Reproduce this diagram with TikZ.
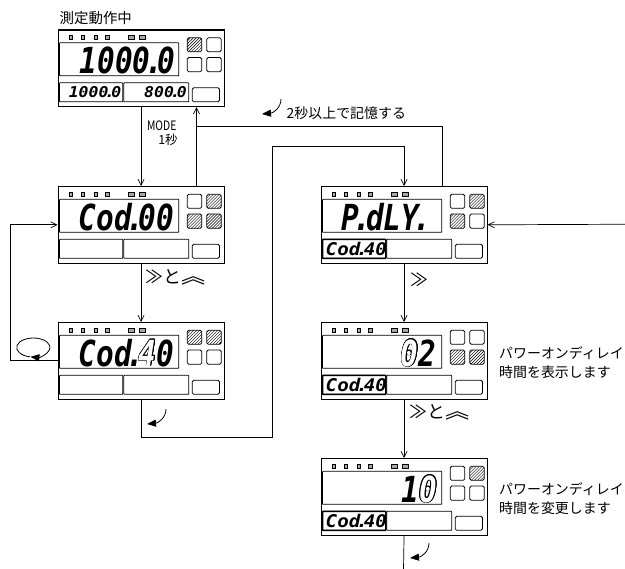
\documentclass[tikz,border=0pt]{standalone}
\usepackage{fontspec}
\usepackage{contour}
\usetikzlibrary{arrows.meta,patterns}

\newfontfamily\jpfont{Noto Sans CJK JP}
\newfontfamily\jpnarrow[FakeStretch=0.8]{Noto Sans CJK JP}
\newfontfamily\segfont[FakeStretch=0.82]{DejaVu Sans Mono Bold Oblique}
\newfontfamily\minifont[FakeStretch=1.1]{DejaVu Sans Mono Bold Oblique}

\contourlength{0.7pt}
\newcommand\segdot{\makebox[0.2em]{.}}
\newcommand\ghost[1]{{\color{white}\contour{black}{#1}}}
\newcommand\upkey{\scalebox{1.35}[1.1]{︽}}

\tikzset{
  panel/.style={draw, line width=1.1bp, minimum width=166bp, minimum height=76.5bp,
    inner sep=0pt, anchor=north west},
  seg/.style={draw, line width=0.8bp, rounded corners=0.6bp},
  key/.style={draw, line width=0.8bp, rounded corners=1.5bp},
  litkey/.style={key, pattern=north east lines},
  lamp/.style={draw, fill=gray!70, line width=0.4bp},
  flow/.style={draw, line width=0.7bp},
  flowarrow/.style={flow, -{Straight Barb[length=6bp,width=6bp]}},
  hold/.style={draw, line width=0.8bp, -{Triangle[length=9bp,width=7bp]}},
  bigseg/.style={font=\segfont\fontsize{36}{36}\selectfont, anchor=base east, inner sep=0pt},
  subseg/.style={font=\minifont\fontsize{15}{15}\selectfont, anchor=base east, inner sep=0pt},
  codeseg/.style={font=\minifont\fontsize{17.5}{17.5}\selectfont, anchor=base west, inner sep=0pt},
  jp/.style={font=\jpfont\fontsize{14}{19}\selectfont, inner sep=0pt},
  keys/.style={font=\jpfont\fontsize{18}{18}\selectfont, inner sep=0pt, anchor=west},
}

% frame of one display, #2..#5 = styles of the four keys
\newcommand\lcdbody[5]{%
  \begin{scope}[shift={(#1.north west)}]
    \foreach \lx in {11.3,23.7,36.3,48} \draw[lamp] (\lx,5.7) rectangle ++(3.3,4.3);
    \foreach \lx in {70.3,82} \draw[lamp] (\lx,5.7) rectangle ++(6,4.3);
    \draw[seg] (2,13.3) rectangle (121.3,46.3);
    \draw[seg] (2,53.3) rectangle (65.3,72.3);
    \draw[seg] (66.3,53.3) rectangle (131.3,72.3);
    \draw[key] (134.7,58.3) rectangle (162,72.3);
    \draw[#2] (129.7,8.3) rectangle (144.3,22.3);
    \draw[#3] (149.3,8.3) rectangle (163.7,22.3);
    \draw[#4] (129.7,28) rectangle (144.3,42.3);
    \draw[#5] (149.3,28) rectangle (163.7,42.3);
  \end{scope}}

\newcommand\holdmark[1]{%
  \draw[hold] ([shift={(19,-15)}]#1) .. controls ([shift={(19,-6)}]#1) and ([shift={(11,-1)}]#1) .. (#1);}

\begin{document}
\begin{tikzpicture}[x=1bp, y=-1bp]
  \useasboundingbox (0,0) rectangle (625,569);

  % displays
  \node[panel] (pA) at (57.5,29.5) {};
  \node[panel] (pB) at (57.5,186) {};
  \node[panel] (pC) at (57.5,322) {};
  \node[panel] (pD) at (320.5,186) {};
  \node[panel] (pE) at (320.5,322) {};
  \node[panel] (pF) at (320.5,458) {};

  \lcdbody{pA}{litkey}{key}{key}{key}
  \lcdbody{pB}{key}{litkey}{litkey}{litkey}
  \lcdbody{pC}{litkey}{litkey}{key}{key}
  \lcdbody{pD}{key}{litkey}{litkey}{key}
  \lcdbody{pE}{key}{key}{litkey}{litkey}
  \lcdbody{pF}{key}{litkey}{key}{key}
  \foreach \p in {pD,pE,pF}
    \draw[seg, line width=1.5bp] ([shift={(2,53.3)}]\p.north west) rectangle ([shift={(65.3,72.3)}]\p.north west);

  \node[bigseg] (dA) at ([shift={(118,44)}]pA.north west) {1000\segdot0};
  \node[subseg] (sA1) at ([shift={(64,68.5)}]pA.north west) {1000\segdot0};
  \node[subseg] (sA2) at ([shift={(129.5,68.5)}]pA.north west) {800\segdot0};
  \node[bigseg] (dB) at ([shift={(117,44)}]pB.north west) {Cod\segdot00};
  \node[bigseg] (dC) at ([shift={(117,44)}]pC.north west) {Cod\segdot\ghost{4}0};
  \node[bigseg] (dD) at ([shift={(106,44)}]pD.north west) {P\segdot dLY\segdot};
  \node[bigseg] (dE) at ([shift={(116,44)}]pE.north west) {\ghost{0}2};
  \node[bigseg] (dF) at ([shift={(117,44)}]pF.north west) {1\ghost{0}};
  \node[codeseg] (sD) at ([shift={(5,69.5)}]pD.north west) {Cod\segdot40};
  \node[codeseg] (sE) at ([shift={(5,69.5)}]pE.north west) {Cod\segdot40};
  \node[codeseg] (sF) at ([shift={(5,69.5)}]pF.north west) {Cod\segdot40};

  % texts
  \node[jp, anchor=west, font=\jpfont\fontsize{14.5}{16}\selectfont] (tA) at (59.5,18.5) {測定動作中};
  \node[inner sep=0pt, font=\jpnarrow\fontsize{13}{14}\selectfont] (mode) at (161.7,126) {MODE};
  \node[inner sep=0pt, font=\jpfont\fontsize{12.5}{14}\selectfont] (modesec) at (168,140) {1秒};
  \node[jp, anchor=west] (save) at (286.5,113) {2秒以上で記憶する};
  \node[keys] (keyL) at (145,277.5) {≫と\upkey};
  \node[keys] (keyR1) at (410,280) {≫};
  \node[keys] (keyR2) at (409,412.5) {≫と\upkey};
  \node[jp, anchor=west, align=left] (noteE) at (499,362.5) {パワーオンディレイ\\時間を表示します};
  \node[jp, anchor=west, align=left] (noteF) at (499,498.5) {パワーオンディレイ\\時間を変更します};

  % turning points and free ends
  \coordinate (memo) at (196.5,126);
  \coordinate (lowturn) at (272,437);
  \coordinate (highturn) at (272,146);
  \coordinate (loopx) at (10,300);
  \coordinate (fend) at (403.5,569);
  \coordinate (fromright) at (625,224.25);

  % connectors
  \draw[flowarrow] (pA.south) -- (pB.north);
  \draw[flowarrow] ([xshift=139bp]pB.north west) -- ([xshift=139bp]pA.south west);
  \draw[flow] ([xshift=121.5bp]pD.north west) |- (memo);
  \draw[flowarrow] (pB.south) -- (pC.north);
  \draw[flowarrow] (pC.west) -- (pC.west -| loopx) |- (pB.west);
  \draw[flowarrow] (pC.south) |- (lowturn) -- (highturn) -| (pD.north);
  \draw[flowarrow] (pD.south) -- (pE.north);
  \draw[flowarrow] (pE.south) -- (pF.north);
  \draw[flow] (pF.south) -- (fend);
  \draw[flowarrow] (fromright) -- (pD.east);

  % key symbols
  \coordinate (holdS) at (262,114);
  \coordinate (holdC) at (147,424);
  \coordinate (holdF) at (410,558);
  \holdmark{holdS}
  \holdmark{holdC}
  \holdmark{holdF}
  \coordinate (loopC) at (33.3,347.5);
  \draw[hold] (loopC) ++(102:16.7 and 9.5) arc[start angle=102, end angle=460, x radius=16.7, y radius=9.5];
\end{tikzpicture}
\end{document}
